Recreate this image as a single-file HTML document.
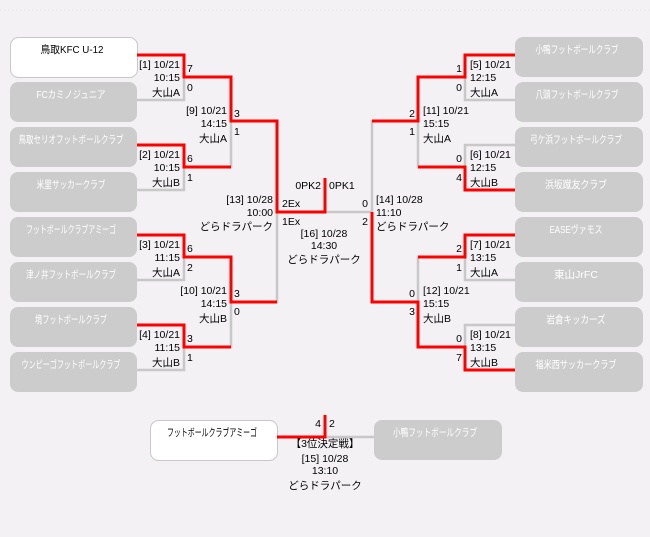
<!DOCTYPE html>
<html><head><meta charset="utf-8"><style>
html,body{margin:0;padding:0;background:#f3f1f4;}
svg{display:block;font-family:"Liberation Sans","Noto Sans CJK JP",sans-serif;font-size:10.5px;}
.box{fill:#cccccc;}
.wbox{fill:#ffffff;stroke:#c8c8c8;stroke-width:1;}
.tw{fill:#fff;text-anchor:middle;font-size:10.5px;}
.tb{fill:#000;text-anchor:middle;font-size:10.5px;}
.g{fill:none;stroke:#c8c8c8;stroke-width:2.5;}
.r{fill:none;stroke:#ff0000;stroke-width:3;}
.e{text-anchor:end;}
.m{text-anchor:middle;}
</style></head><body>
<svg width="650" height="537" viewBox="0 0 650 537">
<line x1="0" y1="10" x2="650" y2="10" stroke="#e6e4e8" stroke-dasharray="1 3"/>
<rect class="wbox" x="10.5" y="37.5" width="127" height="40" rx="8"/>
<rect class="box" x="10" y="82" width="127" height="40" rx="8"/>
<rect class="box" x="10" y="127" width="127" height="40" rx="8"/>
<rect class="box" x="10" y="172" width="127" height="40" rx="8"/>
<rect class="box" x="10" y="217" width="127" height="40" rx="8"/>
<rect class="box" x="10" y="262" width="127" height="40" rx="8"/>
<rect class="box" x="10" y="307" width="127" height="40" rx="8"/>
<rect class="box" x="10" y="352" width="127" height="40" rx="8"/>
<text class="tb" x="72" y="53" textLength="63" lengthAdjust="spacingAndGlyphs">鳥取KFC U-12</text>
<text class="tw" x="71" y="98" textLength="69" lengthAdjust="spacingAndGlyphs">FCカミノジュニア</text>
<text class="tw" x="71" y="143" textLength="105" lengthAdjust="spacingAndGlyphs">鳥取セリオフットボールクラブ</text>
<text class="tw" x="71" y="188" textLength="69" lengthAdjust="spacingAndGlyphs">米里サッカークラブ</text>
<text class="tw" x="71" y="233" textLength="90" lengthAdjust="spacingAndGlyphs">フットボールクラブアミーゴ</text>
<text class="tw" x="71" y="278" textLength="90" lengthAdjust="spacingAndGlyphs">津ノ井フットボールクラブ</text>
<text class="tw" x="71" y="323" textLength="72" lengthAdjust="spacingAndGlyphs">境フットボールクラブ</text>
<text class="tw" x="71" y="368" textLength="99" lengthAdjust="spacingAndGlyphs">ウンピーゴフットボールクラブ</text>
<rect class="box" x="515" y="37" width="128" height="40" rx="8"/>
<rect class="box" x="515" y="82" width="128" height="40" rx="8"/>
<rect class="box" x="515" y="127" width="128" height="40" rx="8"/>
<rect class="box" x="515" y="172" width="128" height="40" rx="8"/>
<rect class="box" x="515" y="217" width="128" height="40" rx="8"/>
<rect class="box" x="515" y="262" width="128" height="40" rx="8"/>
<rect class="box" x="515" y="307" width="128" height="40" rx="8"/>
<rect class="box" x="515" y="352" width="128" height="40" rx="8"/>
<text class="tw" x="577" y="53" textLength="83" lengthAdjust="spacingAndGlyphs">小鴨フットボールクラブ</text>
<text class="tw" x="577" y="98" textLength="83" lengthAdjust="spacingAndGlyphs">八頭フットボールクラブ</text>
<text class="tw" x="576" y="143" textLength="92" lengthAdjust="spacingAndGlyphs">弓ケ浜フットボールクラブ</text>
<text class="tw" x="576" y="188" textLength="62" lengthAdjust="spacingAndGlyphs">浜坂蹴友クラブ</text>
<text class="tw" x="576" y="233" textLength="53" lengthAdjust="spacingAndGlyphs">EASEヴァモス</text>
<text class="tw" x="576" y="278" textLength="44" lengthAdjust="spacingAndGlyphs">東山JrFC</text>
<text class="tw" x="576" y="323" textLength="59" lengthAdjust="spacingAndGlyphs">岩倉キッカーズ</text>
<text class="tw" x="576" y="368" textLength="81" lengthAdjust="spacingAndGlyphs">福米西サッカークラブ</text>
<path class="g" d="M137 55H184V100H137M137 145H184V190H137M137 235H184V280H137M137 325H184V370H137M184 77H231V167H184M184 257H231V347H184M231 121H277V302H231M325 212H372M515 55H465V100H515M515 145H465V190H515M515 235H465V280H515M515 325H465V370H515M465 77H418V167H465M465 257H418V347H465M418 121H372V302H418"/>
<path class="r" d="M137 55H184V77H231V121H277V212H325V178M137 145H184V167H231M137 235H184V257H231V302H277M137 325H184V347H231M515 55H465V77H418V121H372M515 190H465V167H418M515 235H465V257H418M515 370H465V347H418V302H372V212"/>
<g>
<text class="e" x="180" y="68">[1] 10/21</text><text class="e" x="180" y="81">10:15</text><text class="e" x="180" y="96">大山A</text>
<text x="187" y="72">7</text><text x="187" y="91">0</text>
<text class="e" x="180" y="158">[2] 10/21</text><text class="e" x="180" y="171">10:15</text><text class="e" x="180" y="186">大山B</text>
<text x="187" y="162">6</text><text x="187" y="181">1</text>
<text class="e" x="180" y="248">[3] 10/21</text><text class="e" x="180" y="261">11:15</text><text class="e" x="180" y="276">大山A</text>
<text x="187" y="252">6</text><text x="187" y="271">2</text>
<text class="e" x="180" y="338">[4] 10/21</text><text class="e" x="180" y="351">11:15</text><text class="e" x="180" y="366">大山B</text>
<text x="187" y="342">3</text><text x="187" y="361">1</text>
<text class="e" x="227" y="114">[9] 10/21</text><text class="e" x="227" y="127">14:15</text><text class="e" x="227" y="142">大山A</text>
<text x="234" y="117">3</text><text x="234" y="135">1</text>
<text class="e" x="227" y="294">[10] 10/21</text><text class="e" x="227" y="307">14:15</text><text class="e" x="227" y="322">大山B</text>
<text x="234" y="297">3</text><text x="234" y="315">0</text>
<text class="e" x="273" y="203">[13] 10/28</text><text class="e" x="273" y="216">10:00</text><text class="e" x="273" y="230">どらドラパーク</text>
</g>
<text class="e" x="321" y="189">0PK2</text><text x="329" y="189">0PK1</text>
<text x="282" y="207">2Ex</text><text class="e" x="368" y="207">0</text>
<text x="282" y="225">1Ex</text><text class="e" x="368" y="225">2</text>
<text class="m" x="324" y="237">[16] 10/28</text><text class="m" x="324" y="249">14:30</text><text class="m" x="324" y="263">どらドラパーク</text>
<text x="470" y="68">[5] 10/21</text><text x="470" y="81">12:15</text><text x="470" y="96">大山A</text>
<text class="e" x="462" y="72">1</text><text class="e" x="462" y="91">0</text>
<text x="470" y="158">[6] 10/21</text><text x="470" y="171">12:15</text><text x="470" y="186">大山B</text>
<text class="e" x="462" y="162">0</text><text class="e" x="462" y="181">4</text>
<text x="470" y="248">[7] 10/21</text><text x="470" y="261">13:15</text><text x="470" y="276">大山A</text>
<text class="e" x="462" y="252">2</text><text class="e" x="462" y="271">1</text>
<text x="470" y="338">[8] 10/21</text><text x="470" y="351">13:15</text><text x="470" y="366">大山B</text>
<text class="e" x="462" y="342">0</text><text class="e" x="462" y="361">7</text>
<text x="423" y="114">[11] 10/21</text><text x="423" y="127">15:15</text><text x="423" y="142">大山A</text>
<text class="e" x="415" y="117">2</text><text class="e" x="415" y="135">1</text>
<text x="423" y="294">[12] 10/21</text><text x="423" y="307">15:15</text><text x="423" y="322">大山B</text>
<text class="e" x="415" y="297">0</text><text class="e" x="415" y="315">3</text>
<text x="376" y="203">[14] 10/28</text><text x="376" y="216">11:10</text><text x="376" y="230">どらドラパーク</text>
<rect class="wbox" x="150.5" y="420.5" width="127" height="40" rx="8"/>
<rect class="box" x="374" y="420" width="128" height="40" rx="8"/>
<text class="tb" x="212" y="436" textLength="90" lengthAdjust="spacingAndGlyphs">フットボールクラブアミーゴ</text>
<text class="tw" x="435" y="436" textLength="84" lengthAdjust="spacingAndGlyphs">小鴨フットボールクラブ</text>
<path class="g" d="M325 437H374"/>
<path class="r" d="M277 437H325V415"/>
<text class="e" x="321" y="427">4</text><text x="329" y="427">2</text>
<text class="m" x="325" y="447">【3位決定戦】</text>
<text class="m" x="325" y="462">[15] 10/28</text>
<text class="m" x="325" y="474">13:10</text>
<text class="m" x="325" y="489">どらドラパーク</text>
</svg>
</body></html>
